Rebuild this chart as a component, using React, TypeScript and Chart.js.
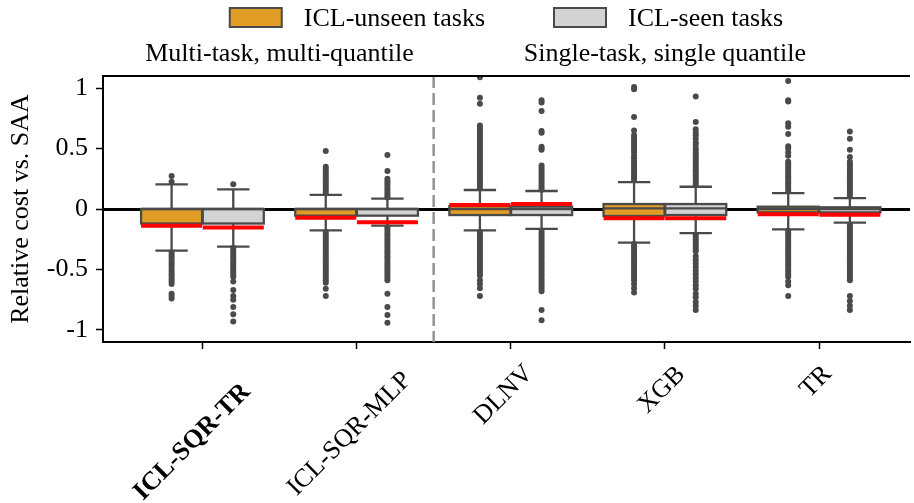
import React, { useEffect, useRef } from 'react';
import { Chart, registerables } from 'chart.js';

Chart.register(...registerables);

// ---------- data ----------
const categories = ['ICL-SQR-TR', 'ICL-SQR-MLP', 'DLNV', 'XGB', 'TR'];
const seriesNames = ['ICL-unseen tasks', 'ICL-seen tasks'];
const groupTitles = ['Multi-task, multi-quantile', 'Single-task, single quantile'];
const groupCenters = [0.5, 3];
const dividerAt = 1.5;
const yTicks = [-1, -0.5, 0, 0.5, 1];
const yTickLabels = ['-1', '-0.5', '0', '0.5', '1'];

// ICL-unseen tasks
const q1Unseen = [-0.12, -0.055, -0.05, -0.058, -0.028];
const medUnseen = [0, 0, 0, 0.005, 0];
const q3Unseen = [0, 0, 0.025, 0.041, 0.019];
const loUnseen = [-0.344, -0.176, -0.176, -0.278, -0.168];
const hiUnseen = [0.204, 0.116, 0.157, 0.223, 0.132];
const meanUnseen = [-0.138, -0.072, 0.033, -0.077, -0.044];
const outUnseen = [
  [0.273, 0.226, -0.36, -0.38, -0.4, -0.42, -0.44, -0.46, -0.48, -0.5, -0.52, -0.54, -0.56, -0.58, -0.6, -0.62, -0.7, -0.72, -0.74],
  [0.48, 0.35, 0.33, 0.31, 0.29, 0.27, 0.25, 0.23, 0.21, 0.19, 0.17, 0.15, 0.13,
    -0.19, -0.21, -0.23, -0.25, -0.27, -0.29, -0.31, -0.33, -0.35, -0.37, -0.39, -0.41, -0.43, -0.45, -0.47, -0.49, -0.51, -0.53, -0.55, -0.57, -0.59, -0.61, -0.66, -0.72],
  [1.09, 0.92, 0.87, 0.69, 0.67, 0.65, 0.63, 0.61, 0.59, 0.57, 0.55, 0.53, 0.51, 0.49, 0.47, 0.45, 0.43, 0.41, 0.39, 0.37, 0.35, 0.33, 0.31, 0.29, 0.27, 0.25, 0.23, 0.21, 0.19, 0.17,
    -0.19, -0.21, -0.23, -0.25, -0.27, -0.29, -0.31, -0.33, -0.35, -0.37, -0.39, -0.41, -0.43, -0.45, -0.47, -0.49, -0.51, -0.53, -0.55, -0.59, -0.62, -0.655, -0.72],
  [1.01, 0.99, 0.76, 0.65, 0.61, 0.59, 0.57, 0.55, 0.53, 0.51, 0.49, 0.47, 0.44, 0.42, 0.4, 0.38, 0.36, 0.34, 0.32, 0.3, 0.28, 0.26, 0.24,
    -0.29, -0.31, -0.33, -0.35, -0.37, -0.39, -0.41, -0.43, -0.45, -0.47, -0.49, -0.51, -0.53, -0.55, -0.57, -0.59, -0.62, -0.655, -0.69],
  [1.058, 0.9, 0.89, 0.71, 0.68, 0.62, 0.52, 0.5, 0.47, 0.44, 0.39, 0.37, 0.35, 0.33, 0.31, 0.29, 0.27, 0.25, 0.23, 0.21, 0.19, 0.17, 0.15,
    -0.18, -0.2, -0.22, -0.24, -0.26, -0.28, -0.3, -0.32, -0.34, -0.36, -0.38, -0.4, -0.42, -0.44, -0.46, -0.48, -0.5, -0.52, -0.54, -0.56, -0.6, -0.63, -0.72],
];

// ICL-seen tasks
const q1Seen = [-0.12, -0.055, -0.05, -0.05, -0.028];
const medSeen = [0, 0, 0, 0.005, 0];
const q3Seen = [0, 0, 0.02, 0.041, 0.014];
const loSeen = [-0.311, -0.138, -0.165, -0.2, -0.113];
const hiSeen = [0.163, 0.085, 0.149, 0.184, 0.09];
const meanSeen = [-0.154, -0.11, 0.041, -0.077, -0.048];
const outSeen = [
  [0.204, -0.32, -0.34, -0.36, -0.38, -0.4, -0.42, -0.44, -0.46, -0.48, -0.5, -0.52, -0.54, -0.56, -0.6, -0.67, -0.72, -0.75, -0.81, -0.87, -0.93],
  [0.446, 0.314, 0.25, 0.23, 0.21, 0.19, 0.17, 0.15, 0.13, 0.11, 0.095,
    -0.15, -0.17, -0.19, -0.21, -0.23, -0.25, -0.27, -0.29, -0.31, -0.33, -0.35, -0.37, -0.39, -0.41, -0.43, -0.45, -0.47, -0.49, -0.51, -0.53, -0.55, -0.57, -0.59, -0.7, -0.81, -0.876, -0.94],
  [0.9, 0.88, 0.81, 0.645, 0.63, 0.515, 0.5, 0.49, 0.36, 0.34, 0.32, 0.3, 0.28, 0.26, 0.24, 0.22, 0.2, 0.18, 0.16,
    -0.18, -0.2, -0.22, -0.24, -0.26, -0.28, -0.3, -0.32, -0.34, -0.36, -0.38, -0.4, -0.42, -0.44, -0.46, -0.48, -0.5, -0.52, -0.54, -0.56, -0.58, -0.6, -0.62, -0.64, -0.66, -0.68, -0.835, -0.92],
  [0.93, 0.72, 0.66, 0.63, 0.61, 0.58, 0.55, 0.53, 0.5, 0.48, 0.46, 0.44, 0.42, 0.4, 0.38, 0.36, 0.34, 0.32, 0.3, 0.28, 0.26, 0.24, 0.22, 0.2,
    -0.21, -0.23, -0.25, -0.27, -0.29, -0.31, -0.33, -0.35, -0.39, -0.42, -0.45, -0.48, -0.51, -0.54, -0.57, -0.6, -0.63, -0.66, -0.7, -0.73, -0.77, -0.8, -0.835],
  [0.64, 0.58, 0.49, 0.43, 0.39, 0.37, 0.35, 0.33, 0.31, 0.29, 0.27, 0.25, 0.23, 0.21, 0.19, 0.17, 0.15, 0.13, 0.11,
    -0.13, -0.15, -0.17, -0.19, -0.21, -0.23, -0.25, -0.27, -0.29, -0.31, -0.33, -0.35, -0.37, -0.39, -0.41, -0.43, -0.45, -0.47, -0.49, -0.51, -0.53, -0.55, -0.57, -0.59, -0.72, -0.76, -0.8, -0.835],
];

// ---------- style ----------
const FONT = "'Liberation Serif', 'Times New Roman', serif";
const FS = 26;
const EDGE = '#4a4a4a';
const ORANGE = '#E09C25';
const GREY = '#D3D3D3';
const MEAN_RED = '#FF0000';
const DODGE = 0.2;
const BOX_HALF = 0.198;
const CAP_HALF = 0.105;
const labelShift = [[-10, 100], [-7, 92], [-7, 53], [-3, 48], [-3, 40]];

const series = [
  { name: seriesNames[0], off: -DODGE, color: ORANGE, q1: q1Unseen, med: medUnseen, q3: q3Unseen, lo: loUnseen, hi: hiUnseen, mean: meanUnseen, out: outUnseen },
  { name: seriesNames[1], off: DODGE, color: GREY, q1: q1Seen, med: medSeen, q3: q3Seen, lo: loSeen, hi: hiSeen, mean: meanSeen, out: outSeen },
];

function line(ctx: CanvasRenderingContext2D, x1: number, y1: number, x2: number, y2: number) {
  ctx.beginPath();
  ctx.moveTo(x1, y1);
  ctx.lineTo(x2, y2);
  ctx.stroke();
}

const boxPlugin = {
  id: 'boxplots',
  beforeDatasetsDraw(chart: any) {
    const { ctx, chartArea, scales } = chart;
    const x = scales.x, y = scales.y;
    ctx.save();
    ctx.beginPath();
    ctx.rect(chartArea.left, chartArea.top, chartArea.right - chartArea.left, chartArea.bottom - chartArea.top);
    ctx.clip();
    // divider
    ctx.strokeStyle = '#939393';
    ctx.lineWidth = 2.5;
    ctx.setLineDash([12, 5]);
    const dx = x.getPixelForValue(dividerAt);
    line(ctx, dx, chartArea.top, dx, chartArea.bottom);
    ctx.setLineDash([]);
    series.forEach((s) => {
      categories.forEach((_, i) => {
        const c = i + s.off;
        const xc = x.getPixelForValue(c);
        const xl = x.getPixelForValue(c - BOX_HALF);
        const xr = x.getPixelForValue(c + BOX_HALF);
        const cl = x.getPixelForValue(c - CAP_HALF);
        const cr = x.getPixelForValue(c + CAP_HALF);
        const yq1 = y.getPixelForValue(s.q1[i]);
        const yq3 = y.getPixelForValue(s.q3[i]);
        const ymed = y.getPixelForValue(s.med[i]);
        const ylo = y.getPixelForValue(s.lo[i]);
        const yhi = y.getPixelForValue(s.hi[i]);
        ctx.strokeStyle = EDGE;
        ctx.lineWidth = 2.3;
        line(ctx, xc, yq1, xc, ylo);
        line(ctx, xc, yq3, xc, yhi);
        line(ctx, cl, ylo, cr, ylo);
        line(ctx, cl, yhi, cr, yhi);
        ctx.fillStyle = s.color;
        ctx.fillRect(xl, yq3, xr - xl, yq1 - yq3);
        ctx.strokeRect(xl, yq3, xr - xl, yq1 - yq3);
        line(ctx, xl, ymed, xr, ymed);
      });
    });
    ctx.restore();
  },
  afterDatasetsDraw(chart: any) {
    const { ctx, chartArea, scales } = chart;
    const x = scales.x, y = scales.y;
    ctx.save();
    ctx.strokeStyle = MEAN_RED;
    ctx.lineWidth = 4;
    series.forEach((s) => {
      categories.forEach((_, i) => {
        const c = i + s.off;
        const ym = y.getPixelForValue(s.mean[i]);
        line(ctx, x.getPixelForValue(c - BOX_HALF), ym, x.getPixelForValue(c + BOX_HALF), ym);
      });
    });
    // top spine
    ctx.strokeStyle = '#000';
    ctx.lineWidth = 2;
    line(ctx, chartArea.left - 1, chartArea.top, chartArea.right, chartArea.top);
    ctx.restore();
  },
  afterDraw(chart: any) {
    const { ctx, chartArea, scales } = chart;
    const x = scales.x;
    ctx.save();
    ctx.fillStyle = '#000';
    // legend
    ctx.font = `${FS}px ${FONT}`;
    const w1 = ctx.measureText(series[0].name).width;
    const w2 = ctx.measureText(series[1].name).width;
    const boxW = 52, boxH = 19, pad = 22, gap = 69;
    const total = boxW * 2 + pad * 2 + w1 + w2 + gap;
    let lx = (chartArea.left + chartArea.right) / 2 - total / 2;
    ctx.textBaseline = 'alphabetic';
    ctx.textAlign = 'left';
    series.forEach((s, k) => {
      ctx.fillStyle = s.color;
      ctx.fillRect(lx, 8, boxW, boxH);
      ctx.strokeStyle = EDGE;
      ctx.lineWidth = 2;
      ctx.strokeRect(lx, 8, boxW, boxH);
      ctx.fillStyle = '#000';
      ctx.fillText(s.name, lx + boxW + pad, 26);
      lx += boxW + pad + (k === 0 ? w1 : w2) + gap;
    });
    // group titles
    ctx.textAlign = 'center';
    groupTitles.forEach((t, k) => {
      ctx.fillText(t, x.getPixelForValue(groupCenters[k]), 61);
    });
    // x tick labels
    categories.forEach((lab, i) => {
      const px = x.getPixelForValue(i) + labelShift[i][0];
      const py = chartArea.bottom + labelShift[i][1];
      ctx.save();
      ctx.translate(px, py);
      ctx.rotate(-Math.PI / 4);
      ctx.font = `${i === 0 ? 'bold ' : ''}${FS}px ${FONT}`;
      ctx.textAlign = 'center';
      ctx.textBaseline = 'middle';
      ctx.fillText(lab, 0, 0);
      ctx.restore();
    });
    ctx.restore();
  },
};

export default function App() {
  const ref = useRef<HTMLCanvasElement>(null);
  useEffect(() => {
    document.body.style.margin = '0';
    const canvas = ref.current!;
    Chart.defaults.font.family = FONT;
    const datasets = series.map((s) => ({
      label: s.name,
      data: s.out.flatMap((vals, i) => vals.map((v) => ({ x: i + s.off, y: v }))),
      pointRadius: 3,
      pointBackgroundColor: EDGE,
      pointBorderWidth: 0,
      showLine: false,
    }));
    const chart = new Chart(canvas, {
      type: 'scatter',
      data: { datasets },
      options: {
        responsive: false,
        animation: false,
        events: [],
        layout: { padding: { top: 76, left: 0, right: 0, bottom: 0 } },
        plugins: { legend: { display: false }, tooltip: { enabled: false } },
        scales: {
          x: {
            type: 'linear',
            min: -0.645,
            max: 4.59,
            afterBuildTicks: (s: any) => { s.ticks = categories.map((_, i) => ({ value: i })); },
            afterFit: (s: any) => { s.height = 503 - 342; },
            ticks: { display: false },
            grid: { drawOnChartArea: false, drawTicks: true, tickLength: 7, tickColor: '#000', tickWidth: 1.5 },
            border: { display: true, color: '#000', width: 2 },
          },
          y: {
            min: -1.1,
            max: 1.1,
            afterBuildTicks: (s: any) => { s.ticks = yTicks.map((v) => ({ value: v })); },
            afterFit: (s: any) => { s.width = 103; },
            ticks: {
              color: '#000',
              font: { size: FS },
              padding: 8,
              callback: (v: any) => yTickLabels[yTicks.indexOf(Number(v))],
            },
            grid: {
              color: (c: any) => (c.tick && c.tick.value === 0 ? '#000' : 'rgba(0,0,0,0)'),
              lineWidth: (c: any) => (c.tick && c.tick.value === 0 ? 3 : 1),
              drawTicks: true,
              tickLength: 7,
              tickColor: '#000',
              tickWidth: 1.5,
            },
            border: { display: true, color: '#000', width: 2 },
            title: { display: true, text: 'Relative cost vs. SAA', color: '#000', font: { size: FS }, padding: { top: 6, bottom: 0 } },
          },
        },
      },
      plugins: [boxPlugin],
    } as any);
    return () => chart.destroy();
  }, []);
  return (
    <div style={{ width: 914, height: 503 }}>
      <canvas ref={ref} width={914} height={503} style={{ display: 'block' }} />
    </div>
  );
}
